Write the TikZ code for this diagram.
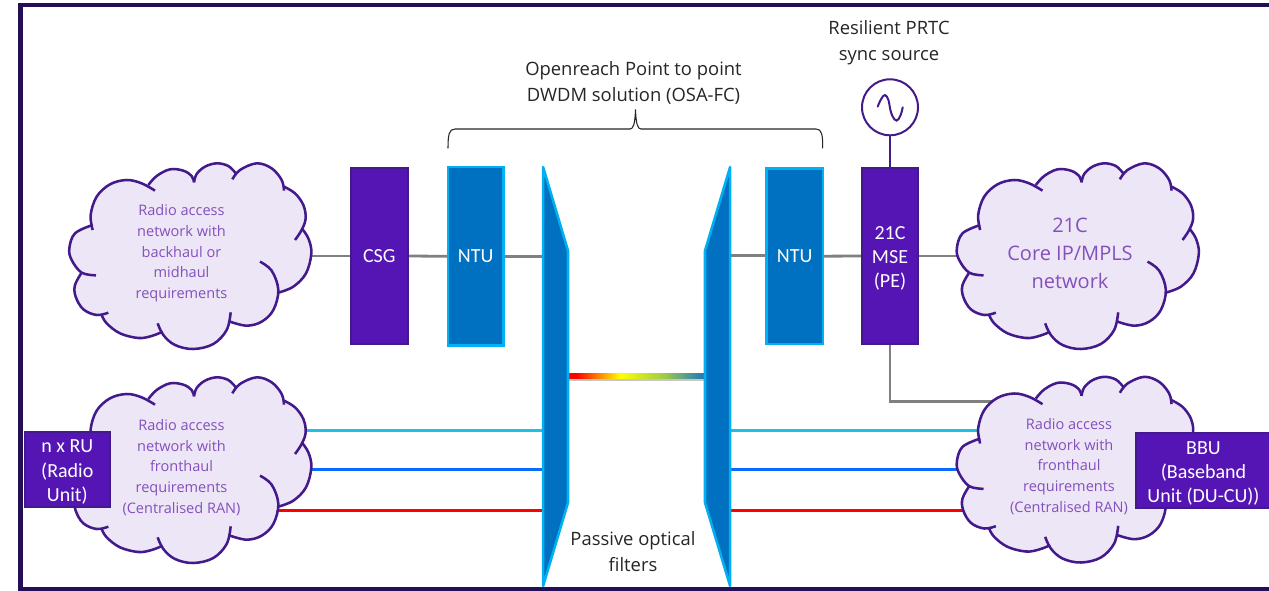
\documentclass[tikz,border=0pt]{standalone}
\usepackage{fontspec}
\setmainfont{Open Sans}
\newfontfamily\boxfont{Carlito}
\usetikzlibrary{positioning,calc}
\pgfdeclarelayer{connectors}
\pgfsetlayers{connectors,main}
\definecolor{btpurple}{HTML}{5514B4}
\definecolor{edgepurple}{HTML}{431A8C}
\definecolor{cloudfill}{HTML}{EDE6F6}
\definecolor{cloudtext}{HTML}{8450BC}
\definecolor{ntublue}{HTML}{0070C0}
\definecolor{ntuedge}{HTML}{00B0F0}
\definecolor{framepurple}{HTML}{240F55}
\definecolor{linegray}{HTML}{808080}
\definecolor{inktext}{HTML}{262626}
\definecolor{wavecyan}{HTML}{1FC0E8}
\definecolor{waveblue}{HTML}{0A6CFF}
\definecolor{wavered}{HTML}{FF0000}
\definecolor{barred}{RGB}{255,0,0}
\definecolor{baryellow}{RGB}{255,255,0}
\definecolor{bargreen}{RGB}{158,204,69}
\definecolor{barteal}{RGB}{77,153,148}
\definecolor{barblue}{RGB}{26,120,184}
\pgfdeclarehorizontalshading{rainbowbar}{100bp}{
  color(0bp)=(barred);
  color(28bp)=(barred);
  color(44bp)=(baryellow);
  color(60bp)=(bargreen);
  color(69bp)=(barteal);
  color(75bp)=(barblue);
  color(100bp)=(barblue)}
\def\pxu{0.75pt}
\def\toppad{\rule{0pt}{13.5pt}}
\def\lobes{%
  \foreach \lobe in {%
    {(278,240)(272,195)(290,140)(330,103)(380,90)(425,100)(465,122)},
    {(445,105)(470,78)(510,58)(550,62)(575,78)(582,97)},
    {(582,97)(590,72)(615,50)(650,40)(685,48)(707,70)},
    {(697,88)(720,60)(770,40)(815,55)(845,90)(852,122)},
    {(852,110)(885,130)(910,165)(917,205)(905,240)(885,270)},
    {(905,235)(925,265)(934,310)(918,370)(880,410)(835,428)},
    {(780,335)(815,362)(835,420)(820,480)(785,515)(740,527)(690,515)},
    {(692,487)(680,540)(640,582)(580,597)(525,585)(490,555)(473,520)},
    {(488,545)(455,558)(415,564)(360,550)(320,520)(305,495)},
    {(325,488)(290,495)(250,478)(227,440)(225,405)(245,368)},
    {(288,376)(245,368)(215,330)(208,295)(225,250)(278,225)}}}
\tikzset{
  x=0.75pt,y=-0.75pt,
  cloudshape/.pic={
    \begin{scope}[x=0.25pt,y=-0.25pt]
      \fill[cloudfill] plot[smooth,tension=0.6] coordinates {(278,225)(272,195)(290,140)(330,103)(380,90)(425,100)(445,105)(470,78)(510,58)(550,62)(582,85)(590,72)(615,50)(650,40)(685,48)(700,72)(720,60)(770,40)(815,55)(845,90)(852,110)(885,130)(910,165)(917,205)(910,235)(925,265)(934,310)(918,370)(880,410)(835,428)(820,480)(785,515)(740,527)(690,515)(680,540)(640,582)(580,597)(525,585)(490,550)(455,558)(415,564)(360,550)(320,520)(305,492)(290,495)(250,478)(227,440)(225,405)(240,368)(215,330)(208,295)(225,250)} -- cycle;
      \lobes{\draw[edgepurple,line width=1.9pt] plot[smooth,tension=0.6] coordinates \lobe;}
    \end{scope}
  },
  cloudlabel/.style={text=cloudtext,align=center,inner sep=0pt,font=\fontsize{10.9}{15.5}\selectfont},
  corelabel/.style={text=cloudtext,align=center,inner sep=0pt,font=\fontsize{15}{21}\selectfont},
  purplebox/.style={draw=edgepurple,fill=btpurple,line width=1.5pt,text=white,align=center,inner sep=0pt,outer sep=0pt,font=\boxfont\fontsize{15}{18.2}\selectfont},
  ntubox/.style={draw=ntuedge,fill=ntublue,line width=1.9pt,text=white,inner sep=0pt,outer sep=0pt,font=\boxfont\fontsize{15}{18.2}\selectfont},
  filtershape/.style={draw=ntuedge,fill=ntublue,line width=1.9pt,line join=round},
  anchorbox/.style={inner sep=0pt,outer sep=0pt,minimum width=25*\pxu,minimum height=419*\pxu},
  inklabel/.style={text=inktext,align=center,inner sep=0pt,font=\fontsize{13.8}{19.6}\selectfont},
  grayline/.style={draw=linegray,line width=2.1pt},
  fibre/.style={line width=2.4pt},
}
\begin{document}
\begin{tikzpicture}
\useasboundingbox (0,0) rectangle (1269,591);
\begin{pgfonlayer}{connectors}
\fill[white] (0,0) rectangle (1269,591);
\end{pgfonlayer}
% frame
\draw[framepurple,line width=3.2pt] (1269,5) -- (20.5,5) -- (20.5,589.5) -- (1269,589.5);
% clouds
\pic at (0,150) {cloudshape};
\pic at (0,364) {cloudshape};
\pic at (887.5,150) {cloudshape};
\pic at (887.5,363.5) {cloudshape};
\node[cloudlabel] (cloudA) at (181.5,253.5) {Radio access\\network with\\backhaul or\\midhaul\\requirements};
\node[cloudlabel] (cloudB) at (181.5,467.3) {Radio access\\network with\\fronthaul\\requirements\\(Centralised RAN)};
\node[corelabel] (cloudC) at (1070,253) {21C\\Core IP/MPLS\\network};
\node[cloudlabel] (cloudD) at (1069,466.5) {Radio access\\network with\\fronthaul\\requirements\\(Centralised RAN)};
% boxes
\node[purplebox,minimum width=56.7*\pxu,minimum height=176*\pxu] (csg) at (379.3,256) {CSG};
\node[ntubox,minimum width=55.5*\pxu,minimum height=178.2*\pxu] (ntuL) at (475.7,256.3) {NTU};
\node[ntubox,minimum width=56.2*\pxu,minimum height=175.2*\pxu] (ntuR) at (794.7,256.2) {NTU};
\node[purplebox,minimum width=56.6*\pxu,minimum height=176*\pxu] (mse) at (890,256) {\toppad 21C\\MSE\\(PE)};
\node[purplebox,minimum width=84.7*\pxu,minimum height=75.6*\pxu] (ru) at (67.3,469.5) {\toppad n x RU\\(Radio\\Unit)};
\node[purplebox,minimum width=136*\pxu,minimum height=74.7*\pxu] (bbu) at (1203.5,470.7) {\toppad BBU\\(Baseband\\Unit (DU-CU))};
% filters
\node[anchorbox] (filtL) at (555.6,376.5) {};
\node[anchorbox] (filtR) at (717.6,376.5) {};
\draw[filtershape] (filtL.north west) -- (568,250.7) -- (568,502.7) -- (filtL.south west) -- cycle;
\draw[filtershape] (filtR.north east) -- (705,250.7) -- (705,502.7) -- (filtR.south east) -- cycle;
% sync
\node[circle,draw=edgepurple,fill=white,line width=1.5pt,minimum size=56*\pxu,inner sep=0pt,outer sep=0pt] (sync) at (890,107.3) {};
\begin{scope}[shift={(sync.center)}]
  \draw[edgepurple,line width=1.5pt,line cap=round] plot[smooth,tension=0.7] coordinates {(-12.3,-0.7)(-9,-8)(-5,-12.3)(-1.5,-7)(0,1)(2.5,9)(6.7,13.3)(10.5,8)(12.7,0)};
\end{scope}
% brace
\coordinate (braceL) at (448,148.3);
\coordinate (braceR) at (822.7,148.3);
\coordinate (braceT) at (635.5,109.3);
\draw[inktext,line width=0.8pt] (braceL) .. controls (448,135) and (449,129) .. (455,129) -- (630,129) .. controls (633,129) and (635,125) .. (braceT) .. controls (636,125) and (638,129) .. (641,129) -- (816,129) .. controls (822,129) and (822.7,135) .. (braceR);
% labels
\node[inklabel] (osa) at (633.5,83) {Openreach Point to point\\DWDM solution (OSA-FC)};
\node[inklabel] (prtc) at (889,42.3) {Resilient PRTC\\sync source};
\node[inklabel] (pof) at (633,551.2) {Passive optical\\filters};
% free ends of connectors, hidden under the clouds
\coordinate (dropEnd) at (1000,401.7);
\coordinate (lc1) at (295,430.3);
\coordinate (lc2) at (300,469.7);
\coordinate (lc3) at (270,510.7);
\coordinate (rc1) at (990,430.3);
\coordinate (rc2) at (970,469.3);
\coordinate (rc3) at (975,510.7);
\begin{pgfonlayer}{connectors}
  \draw[grayline] (cloudA.center |- csg.west) -- (csg.west);
  \draw[grayline] (csg.east) -- (ntuL.west);
  \draw[grayline] (ntuL.east) -- (filtL.center |- ntuL.east);
  \draw[grayline] (filtR.center |- 0,255.3) -- (ntuR.west |- 0,255.3);
  \draw[grayline] (ntuR.east) -- (mse.west);
  \draw[grayline] (mse.east) -- (cloudC.center |- mse.east);
  \draw[grayline] (mse.south) |- (dropEnd);
  \draw[edgepurple,line width=1.5pt] (sync.south) -- (mse.north);
  \draw[fibre,wavecyan] (lc1) -- (filtL.center |- lc1);
  \draw[fibre,waveblue] (lc2) -- (filtL.center |- lc2);
  \draw[fibre,wavered] (lc3) -- (filtL.center |- lc3);
  \draw[fibre,wavecyan] (filtR.center |- rc1) -- (rc1);
  \draw[fibre,waveblue] (filtR.center |- rc2) -- (rc2);
  \draw[fibre,wavered] (filtR.center |- rc3) -- (rc3);
  \fill[black!22] (filtL.center |- 0,378.5) rectangle (filtR.center |- 0,380.5);
  \shade[shading=rainbowbar] (568,373.8) rectangle (705,378.9);
\end{pgfonlayer}
\end{tikzpicture}
\end{document}
